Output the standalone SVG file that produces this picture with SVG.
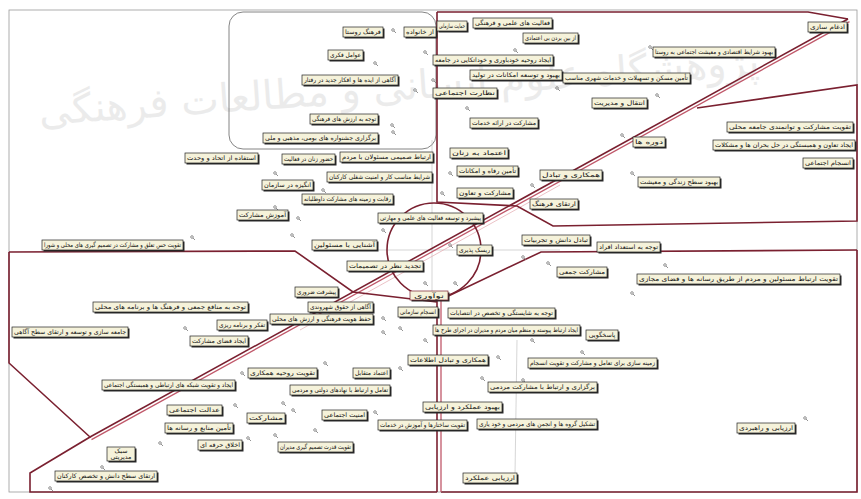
<svg xmlns="http://www.w3.org/2000/svg" width="861" height="499" viewBox="0 0 861 499">
<style>
.bx{fill:#f5f2da;stroke:#222;stroke-width:0.7}
.sh{fill:#2a2a2a}
.t{font-family:"DejaVu Sans",sans-serif;font-size:6.3px;fill:#111;text-anchor:middle}
.rd{fill:none;stroke:#7a2030;stroke-width:1.6}
.rl{fill:none;stroke:#c0586a;stroke-width:1.3}
.fl{fill:none;stroke:#bbb;stroke-width:0.6}
.pin{fill:none;stroke:#777;stroke-width:0.8}
.wm{font-family:"DejaVu Sans",sans-serif;font-size:40px;fill:#c8c8c8;opacity:0.35;text-anchor:middle}
</style>
<defs>
<symbol id="p" viewBox="0 0 6 6" overflow="visible"><circle class="pin" cx="2" cy="2" r="1.3"/><path class="pin" d="M3,3 L5,5"/></symbol>
</defs>
<rect width="861" height="499" fill="#fff"/>
<text class="wm" x="400" y="100" transform="rotate(-4 400 100)">پژوهشگاه علوم انسانی و مطالعات فرهنگی</text>
<g id="frame">
<rect x="9" y="10" width="848" height="482" fill="none" stroke="#9a9a9a" stroke-width="0.8"/>
<rect x="229" y="12" width="207" height="137" rx="14" fill="none" stroke="#666" stroke-width="0.8"/>
</g>
<g id="connectors">
<path class="fl" d="M330,250 H560 M432,140 V300 M517,340 L515,475"/>
<path fill="none" stroke="#e6b3b8" stroke-width="0.8" d="M300,330 L560,185"/>
<path class="rd" d="M437,12 H808 L848,19"/>
<path class="rd" d="M848,19 L90,437"/>
<path class="rl" d="M849.5,21.6 L91.5,439.6"/>
<path class="rd" d="M437,12 V202 L517,206 L553,226 L857,221 V85 L697,108"/>
<path class="rd" d="M857,250 L541,252 L440,300"/>
<path class="rd" d="M857,250 V492 H441"/>
<path class="rd" stroke-width="2" d="M437,300 V492"/>
<path class="rl" stroke-width="1.6" d="M441,300 V492"/>
<path class="rd" d="M9,252 L295,251 L353,292 L437,302"/>
<path class="rd" d="M9,252 V363 L90,437 L30,473 V492 H437"/>
<circle class="rd" cx="434" cy="250" r="47"/>
</g>
<g id="pins">
<use href="#p" x="391" y="28" width="6" height="6"/><use href="#p" x="423" y="50" width="6" height="6"/>
<use href="#p" x="373" y="61" width="6" height="6"/><use href="#p" x="413" y="88" width="6" height="6"/>
<use href="#p" x="390" y="123" width="6" height="6"/><use href="#p" x="391" y="130" width="6" height="6"/>
<use href="#p" x="431" y="78" width="6" height="6"/><use href="#p" x="513" y="48" width="6" height="6"/>
<use href="#p" x="555" y="86" width="6" height="6"/><use href="#p" x="648" y="45" width="6" height="6"/>
<use href="#p" x="655" y="93" width="6" height="6"/><use href="#p" x="465" y="106" width="6" height="6"/>
<use href="#p" x="620" y="133" width="6" height="6"/><use href="#p" x="450" y="153" width="6" height="6"/>
<use href="#p" x="448" y="171" width="6" height="6"/><use href="#p" x="530" y="183" width="6" height="6"/>
<use href="#p" x="630" y="171" width="6" height="6"/><use href="#p" x="440" y="191" width="6" height="6"/>
<use href="#p" x="448" y="243" width="6" height="6"/><use href="#p" x="521" y="255" width="6" height="6"/>
<use href="#p" x="546" y="261" width="6" height="6"/><use href="#p" x="663" y="263" width="6" height="6"/>
<use href="#p" x="630" y="291" width="6" height="6"/><use href="#p" x="423" y="281" width="6" height="6"/>
<use href="#p" x="453" y="281" width="6" height="6"/><use href="#p" x="423" y="338" width="6" height="6"/>
<use href="#p" x="530" y="338" width="6" height="6"/><use href="#p" x="580" y="350" width="6" height="6"/>
<use href="#p" x="496" y="355" width="6" height="6"/><use href="#p" x="480" y="376" width="6" height="6"/>
<use href="#p" x="521" y="378" width="6" height="6"/><use href="#p" x="803" y="416" width="6" height="6"/>
<use href="#p" x="190" y="235" width="6" height="6"/><use href="#p" x="290" y="233" width="6" height="6"/>
<use href="#p" x="381" y="228" width="6" height="6"/><use href="#p" x="381" y="316" width="6" height="6"/>
<use href="#p" x="381" y="330" width="6" height="6"/><use href="#p" x="398" y="326" width="6" height="6"/>
<use href="#p" x="183" y="326" width="6" height="6"/><use href="#p" x="323" y="361" width="6" height="6"/>
<use href="#p" x="398" y="366" width="6" height="6"/><use href="#p" x="240" y="371" width="6" height="6"/>
<use href="#p" x="233" y="403" width="6" height="6"/><use href="#p" x="281" y="401" width="6" height="6"/>
<use href="#p" x="291" y="408" width="6" height="6"/><use href="#p" x="373" y="410" width="6" height="6"/>
<use href="#p" x="313" y="428" width="6" height="6"/><use href="#p" x="273" y="433" width="6" height="6"/>
<use href="#p" x="246" y="436" width="6" height="6"/><use href="#p" x="158" y="441" width="6" height="6"/>
<use href="#p" x="100" y="465" width="6" height="6"/><use href="#p" x="48" y="486" width="6" height="6"/>
<use href="#p" x="273" y="171" width="6" height="6"/><use href="#p" x="321" y="188" width="6" height="6"/>
<use href="#p" x="273" y="205" width="6" height="6"/><use href="#p" x="296" y="216" width="6" height="6"/>
</g>
<g id="n1"><rect class="sh" x="344.5" y="28.5" width="40" height="10"/><rect class="bx" x="343" y="27" width="40" height="10"/><text class="t" x="363" y="34.3" textLength="36" lengthAdjust="spacingAndGlyphs">فرهنگ روستا</text></g>
<g id="n2"><rect class="sh" x="405.5" y="28.5" width="32" height="10"/><rect class="bx" x="404" y="27" width="32" height="10"/><text class="t" x="420" y="34.3" textLength="28" lengthAdjust="spacingAndGlyphs">از خانواده</text></g>
<g id="n2b"><rect class="sh" x="438.5" y="22.5" width="30" height="10"/><rect class="bx" x="437" y="21" width="30" height="10"/><text class="t" x="452" y="28.3" textLength="26" lengthAdjust="spacingAndGlyphs">حمایت سازمانی</text></g>
<g id="n3"><rect class="sh" x="329.5" y="51.5" width="35" height="10"/><rect class="bx" x="328" y="50" width="35" height="10"/><text class="t" x="345.5" y="57.3" textLength="31" lengthAdjust="spacingAndGlyphs">عوامل فکری</text></g>
<g id="n4"><rect class="sh" x="303.5" y="76.5" width="96" height="10"/><rect class="bx" x="302" y="75" width="96" height="10"/><text class="t" x="350" y="82.3" textLength="92" lengthAdjust="spacingAndGlyphs">آگاهی از ایده ها و افکار جدید در رفتار</text></g>
<g id="n5"><rect class="sh" x="311.5" y="115.5" width="68" height="10"/><rect class="bx" x="310" y="114" width="68" height="10"/><text class="t" x="344" y="121.3" textLength="64" lengthAdjust="spacingAndGlyphs">توجه به ارزش های فرهنگی</text></g>
<g id="n6"><rect class="sh" x="264.5" y="134.5" width="115" height="10"/><rect class="bx" x="263" y="133" width="115" height="10"/><text class="t" x="320.5" y="140.3" textLength="111" lengthAdjust="spacingAndGlyphs">برگزاری جشنواره های بومی، مذهبی و ملی</text></g>
<g id="n9"><rect class="sh" x="186.5" y="154.5" width="73" height="10"/><rect class="bx" x="185" y="153" width="73" height="10"/><text class="t" x="221.5" y="160.3" textLength="69" lengthAdjust="spacingAndGlyphs">استفاده از اتحاد و وحدت</text></g>
<g id="n7"><rect class="sh" x="341.5" y="153.5" width="93" height="10"/><rect class="bx" x="340" y="152" width="93" height="10"/><text class="t" x="386.5" y="159.3" textLength="89" lengthAdjust="spacingAndGlyphs">ارتباط صمیمی مسئولان با مردم</text></g>
<g id="n8"><rect class="sh" x="283.5" y="155.5" width="53" height="10"/><rect class="bx" x="282" y="154" width="53" height="10"/><text class="t" x="308.5" y="161.3" textLength="49" lengthAdjust="spacingAndGlyphs">حضور زنان در فعالیت</text></g>
<g id="n10"><rect class="sh" x="263.5" y="181.5" width="51" height="10"/><rect class="bx" x="262" y="180" width="51" height="10"/><text class="t" x="287.5" y="187.3" textLength="47" lengthAdjust="spacingAndGlyphs">انگیزه در سازمان</text></g>
<g id="n11"><rect class="sh" x="328.5" y="173.5" width="105" height="10"/><rect class="bx" x="327" y="172" width="105" height="10"/><text class="t" x="379.5" y="179.3" textLength="101" lengthAdjust="spacingAndGlyphs">شرایط مناسب کار و امنیت شغلی کارکنان</text></g>
<g id="n12"><rect class="sh" x="303.5" y="195.5" width="91" height="10"/><rect class="bx" x="302" y="194" width="91" height="10"/><text class="t" x="347.5" y="201.3" textLength="87" lengthAdjust="spacingAndGlyphs">رقابت و زمینه های مشارکت داوطلبانه</text></g>
<g id="n13"><rect class="sh" x="238.5" y="211.5" width="51" height="10"/><rect class="bx" x="237" y="210" width="51" height="10"/><text class="t" x="262.5" y="217.3" textLength="47" lengthAdjust="spacingAndGlyphs">آموزش مشارکت</text></g>
<g id="n14"><rect class="sh" x="379.5" y="214.5" width="105" height="10"/><rect class="bx" x="378" y="213" width="105" height="10"/><text class="t" x="430.5" y="220.3" textLength="101" lengthAdjust="spacingAndGlyphs">پیشبرد و توسعه فعالیت های علمی و مهارتی</text></g>
<g id="n15"><rect class="sh" x="43.5" y="241.5" width="141" height="10"/><rect class="bx" x="42" y="240" width="141" height="10"/><text class="t" x="112.5" y="247.3" textLength="137" lengthAdjust="spacingAndGlyphs">تقویت حس تعلق و مشارکت در تصمیم گیری های محلی و شورا</text></g>
<g id="n16"><rect class="sh" x="313.5" y="241.5" width="65" height="10"/><rect class="bx" x="312" y="240" width="65" height="10"/><text class="t" x="344.5" y="247.3" textLength="61" lengthAdjust="spacingAndGlyphs">آشنایی با مسئولین</text></g>
<g id="n17"><rect class="sh" x="348.5" y="262.5" width="76" height="10"/><rect class="bx" x="347" y="261" width="76" height="10"/><text class="t" x="385" y="268.3" textLength="72" lengthAdjust="spacingAndGlyphs">تجدید نظر در تصمیمات</text></g>
<g id="n18"><rect class="sh" x="458.5" y="246.5" width="35" height="10"/><rect class="bx" x="457" y="245" width="35" height="10"/><text class="t" x="474.5" y="252.3" textLength="31" lengthAdjust="spacingAndGlyphs">ریسک پذیری</text></g>
<g id="n75"><rect class="sh" x="411.5" y="292.5" width="38" height="9"/><rect class="bx" x="410" y="291" width="38" height="9" style="stroke:#7a2030"/><text class="t" x="429" y="297.6" textLength="30" lengthAdjust="spacingAndGlyphs">نوآوری</text></g>
<g id="n19"><rect class="sh" x="296.5" y="288.5" width="43" height="10"/><rect class="bx" x="295" y="287" width="43" height="10"/><text class="t" x="316.5" y="294.3" textLength="39" lengthAdjust="spacingAndGlyphs">پیشرفت ضروری</text></g>
<g id="n20"><rect class="sh" x="94.5" y="303.5" width="155" height="10"/><rect class="bx" x="93" y="302" width="155" height="10"/><text class="t" x="170.5" y="309.3" textLength="151" lengthAdjust="spacingAndGlyphs">توجه به منافع جمعی و فرهنگ ها و برنامه های محلی</text></g>
<g id="n21"><rect class="sh" x="309.5" y="303.5" width="65" height="10"/><rect class="bx" x="308" y="302" width="65" height="10"/><text class="t" x="340.5" y="309.3" textLength="61" lengthAdjust="spacingAndGlyphs">آگاهی از حقوق شهروندی</text></g>
<g id="n22"><rect class="sh" x="271.5" y="315.5" width="103" height="10"/><rect class="bx" x="270" y="314" width="103" height="10"/><text class="t" x="321.5" y="321.3" textLength="99" lengthAdjust="spacingAndGlyphs">حفظ هویت فرهنگی و ارزش های محلی</text></g>
<g id="n23"><rect class="sh" x="218.5" y="321.5" width="50" height="10"/><rect class="bx" x="217" y="320" width="50" height="10"/><text class="t" x="242" y="327.3" textLength="46" lengthAdjust="spacingAndGlyphs">تفکر و برنامه ریزی</text></g>
<g id="n24"><rect class="sh" x="13.5" y="328.5" width="116" height="10"/><rect class="bx" x="12" y="327" width="116" height="10"/><text class="t" x="70" y="334.3" textLength="112" lengthAdjust="spacingAndGlyphs">جامعه سازی و توسعه و ارتقای سطح آگاهی</text></g>
<g id="n25"><rect class="sh" x="191.5" y="337.5" width="58" height="10"/><rect class="bx" x="190" y="336" width="58" height="10"/><text class="t" x="219" y="343.3" textLength="54" lengthAdjust="spacingAndGlyphs">ایجاد فضای مشارکت</text></g>
<g id="n26"><rect class="sh" x="249.5" y="369.5" width="69" height="10"/><rect class="bx" x="248" y="368" width="69" height="10"/><text class="t" x="282.5" y="375.3" textLength="65" lengthAdjust="spacingAndGlyphs">تقویت روحیه همکاری</text></g>
<g id="n27"><rect class="sh" x="354.5" y="369.5" width="37" height="10"/><rect class="bx" x="353" y="368" width="37" height="10"/><text class="t" x="371.5" y="375.3" textLength="33" lengthAdjust="spacingAndGlyphs">اعتماد متقابل</text></g>
<g id="n28"><rect class="sh" x="103.5" y="381.5" width="133" height="10"/><rect class="bx" x="102" y="380" width="133" height="10"/><text class="t" x="168.5" y="387.3" textLength="129" lengthAdjust="spacingAndGlyphs">ایجاد و تقویت شبکه های ارتباطی و همبستگی اجتماعی</text></g>
<g id="n29"><rect class="sh" x="291.5" y="386.5" width="100" height="10"/><rect class="bx" x="290" y="385" width="100" height="10"/><text class="t" x="340" y="392.3" textLength="96" lengthAdjust="spacingAndGlyphs">تعامل و ارتباط با نهادهای دولتی و مردمی</text></g>
<g id="n30"><rect class="sh" x="168.5" y="406.5" width="55" height="10"/><rect class="bx" x="167" y="405" width="55" height="10"/><text class="t" x="194.5" y="412.3" textLength="51" lengthAdjust="spacingAndGlyphs">عدالت اجتماعی</text></g>
<g id="n31"><rect class="sh" x="248.5" y="414.5" width="38" height="10"/><rect class="bx" x="247" y="413" width="38" height="10"/><text class="t" x="266" y="420.3" textLength="34" lengthAdjust="spacingAndGlyphs">مشارکت</text></g>
<g id="n32"><rect class="sh" x="323.5" y="411.5" width="45" height="10"/><rect class="bx" x="322" y="410" width="45" height="10"/><text class="t" x="344.5" y="417.3" textLength="41" lengthAdjust="spacingAndGlyphs">امنیت اجتماعی</text></g>
<g id="n33"><rect class="sh" x="166.5" y="424.5" width="68" height="10"/><rect class="bx" x="165" y="423" width="68" height="10"/><text class="t" x="199" y="430.3" textLength="64" lengthAdjust="spacingAndGlyphs">تأمین منابع و رسانه ها</text></g>
<g id="n34"><rect class="sh" x="199.5" y="441.5" width="44" height="10"/><rect class="bx" x="198" y="440" width="44" height="10"/><text class="t" x="220" y="447.3" textLength="40" lengthAdjust="spacingAndGlyphs">اخلاق حرفه ای</text></g>
<g id="n35"><rect class="sh" x="279.5" y="443.5" width="75" height="10"/><rect class="bx" x="278" y="442" width="75" height="10"/><text class="t" x="315.5" y="449.3" textLength="71" lengthAdjust="spacingAndGlyphs">تقویت قدرت تصمیم گیری مدیران</text></g>
<g id="n36"><rect class="sh" x="108.5" y="448.5" width="28" height="14"/><rect class="bx" x="107" y="447" width="28" height="14"/><text class="t" x="121" y="453" font-size="4.8">سبک</text><text class="t" x="121" y="459.2" font-size="4.8">مدیریتی</text></g>
<g id="n37"><rect class="sh" x="56.5" y="472.5" width="102" height="10"/><rect class="bx" x="55" y="471" width="102" height="10"/><text class="t" x="106" y="478.3" textLength="98" lengthAdjust="spacingAndGlyphs">ارتقای سطح دانش و تخصص کارکنان</text></g>
<g id="n38"><rect class="sh" x="399.5" y="308.5" width="40" height="10"/><rect class="bx" x="398" y="307" width="40" height="10"/><text class="t" x="418" y="314.3" textLength="36" lengthAdjust="spacingAndGlyphs">انسجام سازمانی</text></g>
<g id="n39"><rect class="sh" x="449.5" y="309.5" width="107" height="10"/><rect class="bx" x="448" y="308" width="107" height="10"/><text class="t" x="501.5" y="315.3" textLength="103" lengthAdjust="spacingAndGlyphs">توجه به شایستگی و تخصص در انتصابات</text></g>
<g id="n40"><rect class="sh" x="434.5" y="326.5" width="147" height="10"/><rect class="bx" x="433" y="325" width="147" height="10"/><text class="t" x="506.5" y="331.8" font-size="4.8" textLength="143" lengthAdjust="spacingAndGlyphs">ایجاد ارتباط پیوسته و منظم میان مردم و مدیران در اجرای طرح ها</text></g>
<g id="n41"><rect class="sh" x="587.5" y="331.5" width="32" height="10"/><rect class="bx" x="586" y="330" width="32" height="10"/><text class="t" x="602" y="337.2" font-size="5.5">پاسخگویی</text></g>
<g id="n42"><rect class="sh" x="409.5" y="356.5" width="80" height="10"/><rect class="bx" x="408" y="355" width="80" height="10"/><text class="t" x="448" y="362.3" textLength="76" lengthAdjust="spacingAndGlyphs">همکاری و تبادل اطلاعات</text></g>
<g id="n43"><rect class="sh" x="529.5" y="359.5" width="129" height="10"/><rect class="bx" x="528" y="358" width="129" height="10"/><text class="t" x="592.5" y="365.3" textLength="125" lengthAdjust="spacingAndGlyphs">زمینه سازی برای تعامل و مشارکت و تقویت انسجام</text></g>
<g id="n44"><rect class="sh" x="489.5" y="383.5" width="109" height="10"/><rect class="bx" x="488" y="382" width="109" height="10"/><text class="t" x="542.5" y="389.3" textLength="105" lengthAdjust="spacingAndGlyphs">برگزاری و ارتباط با مشارکت مردمی</text></g>
<g id="n45"><rect class="sh" x="424.5" y="403.5" width="79" height="10"/><rect class="bx" x="423" y="402" width="79" height="10"/><text class="t" x="462.5" y="409.3" textLength="75" lengthAdjust="spacingAndGlyphs">بهبود عملکرد و ارزیابی</text></g>
<g id="n46"><rect class="sh" x="379.5" y="421.5" width="89" height="10"/><rect class="bx" x="378" y="420" width="89" height="10"/><text class="t" x="422.5" y="427.3" textLength="85" lengthAdjust="spacingAndGlyphs">تقویت ساختارها و آموزش در خدمات</text></g>
<g id="n47"><rect class="sh" x="478.5" y="420.5" width="120" height="10"/><rect class="bx" x="477" y="419" width="120" height="10"/><text class="t" x="537" y="426.3" textLength="116" lengthAdjust="spacingAndGlyphs">تشکیل گروه ها و انجمن های مردمی و خود یاری</text></g>
<g id="n48"><rect class="sh" x="464.5" y="474.5" width="54" height="10"/><rect class="bx" x="463" y="473" width="54" height="10"/><text class="t" x="490" y="480.3" textLength="50" lengthAdjust="spacingAndGlyphs">ارزیابی عملکرد</text></g>
<g id="n50"><rect class="sh" x="738.5" y="424.5" width="58" height="10"/><rect class="bx" x="737" y="423" width="58" height="10"/><text class="t" x="766" y="430.3" textLength="54" lengthAdjust="spacingAndGlyphs">ارزیابی و راهبردی</text></g>
<g id="n51"><rect class="sh" x="638.5" y="275.5" width="203" height="10"/><rect class="bx" x="637" y="274" width="203" height="10"/><text class="t" x="738.5" y="281.3" textLength="199" lengthAdjust="spacingAndGlyphs">تقویت ارتباط مسئولین و مردم از طریق رسانه ها و فضای مجازی</text></g>
<g id="n52"><rect class="sh" x="558.5" y="268.5" width="50" height="10"/><rect class="bx" x="557" y="267" width="50" height="10"/><text class="t" x="582" y="274.3" textLength="46" lengthAdjust="spacingAndGlyphs">مشارکت جمعی</text></g>
<g id="n53"><rect class="sh" x="523.5" y="236.5" width="68" height="10"/><rect class="bx" x="522" y="235" width="68" height="10"/><text class="t" x="556" y="242.3" textLength="64" lengthAdjust="spacingAndGlyphs">تبادل دانش و تجربیات</text></g>
<g id="n54"><rect class="sh" x="598.5" y="243.5" width="63" height="10"/><rect class="bx" x="597" y="242" width="63" height="10"/><text class="t" x="628.5" y="249.3" textLength="59" lengthAdjust="spacingAndGlyphs">توجه به استعداد افراد</text></g>
<g id="n55"><rect class="sh" x="474.5" y="19.5" width="79" height="10"/><rect class="bx" x="473" y="18" width="79" height="10"/><text class="t" x="512.5" y="25.3" textLength="75" lengthAdjust="spacingAndGlyphs">فعالیت های علمی و فرهنگی</text></g>
<g id="n56"><rect class="sh" x="524.5" y="34.5" width="55" height="10"/><rect class="bx" x="523" y="33" width="55" height="10"/><text class="t" x="550.5" y="40.3" textLength="51" lengthAdjust="spacingAndGlyphs">از بین بردن بی اعتمادی</text></g>
<g id="n60"><rect class="sh" x="654.5" y="48.5" width="122" height="10"/><rect class="bx" x="653" y="47" width="122" height="10"/><text class="t" x="714" y="54.3" textLength="118" lengthAdjust="spacingAndGlyphs">بهبود شرایط اقتصادی و معیشت اجتماعی به روستا</text></g>
<g id="n57"><rect class="sh" x="434.5" y="56.5" width="120" height="10"/><rect class="bx" x="433" y="55" width="120" height="10"/><text class="t" x="493" y="62.3" textLength="116" lengthAdjust="spacingAndGlyphs">ایجاد روحیه خودباوری و خوداتکایی در جامعه</text></g>
<g id="n58"><rect class="sh" x="471.5" y="71.5" width="92" height="10"/><rect class="bx" x="470" y="70" width="92" height="10"/><text class="t" x="516" y="77.3" textLength="88" lengthAdjust="spacingAndGlyphs">بهبود و توسعه امکانات در تولید</text></g>
<g id="n59"><rect class="sh" x="564.5" y="74.5" width="127" height="10"/><rect class="bx" x="563" y="73" width="127" height="10"/><text class="t" x="626.5" y="80.3" textLength="123" lengthAdjust="spacingAndGlyphs">تأمین مسکن و تسهیلات و خدمات شهری مناسب</text></g>
<g id="n61"><rect class="sh" x="809.5" y="23.5" width="39" height="10"/><rect class="bx" x="808" y="22" width="39" height="10"/><text class="t" x="827.5" y="29.3" textLength="35" lengthAdjust="spacingAndGlyphs">ادغام سازی</text></g>
<g id="n62"><rect class="sh" x="434.5" y="89.5" width="64" height="10"/><rect class="bx" x="433" y="88" width="64" height="10"/><text class="t" x="465" y="95.3" textLength="60" lengthAdjust="spacingAndGlyphs">نظارت اجتماعی</text></g>
<g id="n63"><rect class="sh" x="593.5" y="99.5" width="55" height="10"/><rect class="bx" x="592" y="98" width="55" height="10"/><text class="t" x="619.5" y="105.3" textLength="51" lengthAdjust="spacingAndGlyphs">انتقال و مدیریت</text></g>
<g id="n64"><rect class="sh" x="471.5" y="119.5" width="68" height="10"/><rect class="bx" x="470" y="118" width="68" height="10"/><text class="t" x="504" y="125.3" textLength="64" lengthAdjust="spacingAndGlyphs">مشارکت در ارائه خدمات</text></g>
<g id="n65"><rect class="sh" x="634.5" y="138.5" width="32" height="10"/><rect class="bx" x="633" y="137" width="32" height="10"/><text class="t" x="649" y="144.3" textLength="28" lengthAdjust="spacingAndGlyphs">دوره ها</text></g>
<g id="n66"><rect class="sh" x="728.5" y="123.5" width="126" height="10"/><rect class="bx" x="727" y="122" width="126" height="10"/><text class="t" x="790" y="129.3" textLength="122" lengthAdjust="spacingAndGlyphs">تقویت مشارکت و توانمندی جامعه محلی</text></g>
<g id="n67"><rect class="sh" x="714.5" y="141.5" width="142" height="10"/><rect class="bx" x="713" y="140" width="142" height="10"/><text class="t" x="784" y="147.3" textLength="138" lengthAdjust="spacingAndGlyphs">ایجاد تعاون و همبستگی در حل بحران ها و مشکلات</text></g>
<g id="n68"><rect class="sh" x="804.5" y="159.5" width="50" height="10"/><rect class="bx" x="803" y="158" width="50" height="10"/><text class="t" x="828" y="165.3" textLength="46" lengthAdjust="spacingAndGlyphs">انسجام اجتماعی</text></g>
<g id="n69"><rect class="sh" x="451.5" y="149.5" width="58" height="10"/><rect class="bx" x="450" y="148" width="58" height="10"/><text class="t" x="479" y="155.3" textLength="54" lengthAdjust="spacingAndGlyphs">اعتماد به زنان</text></g>
<g id="n70"><rect class="sh" x="458.5" y="167.5" width="61" height="10"/><rect class="bx" x="457" y="166" width="61" height="10"/><text class="t" x="487.5" y="173.3" textLength="57" lengthAdjust="spacingAndGlyphs">تأمین رفاه و امکانات</text></g>
<g id="n71"><rect class="sh" x="541.5" y="171.5" width="62" height="10"/><rect class="bx" x="540" y="170" width="62" height="10"/><text class="t" x="571" y="177.3" textLength="58" lengthAdjust="spacingAndGlyphs">همکاری و تبادل</text></g>
<g id="n72"><rect class="sh" x="639.5" y="178.5" width="82" height="10"/><rect class="bx" x="638" y="177" width="82" height="10"/><text class="t" x="679" y="184.3" textLength="78" lengthAdjust="spacingAndGlyphs">بهبود سطح زندگی و معیشت</text></g>
<g id="n73"><rect class="sh" x="458.5" y="189.5" width="56" height="10"/><rect class="bx" x="457" y="188" width="56" height="10"/><text class="t" x="485" y="195.3" textLength="52" lengthAdjust="spacingAndGlyphs">مشارکت و تعاون</text></g>
<g id="n74"><rect class="sh" x="531.5" y="200.5" width="48" height="10"/><rect class="bx" x="530" y="199" width="48" height="10"/><text class="t" x="554" y="206.3" textLength="44" lengthAdjust="spacingAndGlyphs">ارتقای فرهنگ</text></g>
</svg>
